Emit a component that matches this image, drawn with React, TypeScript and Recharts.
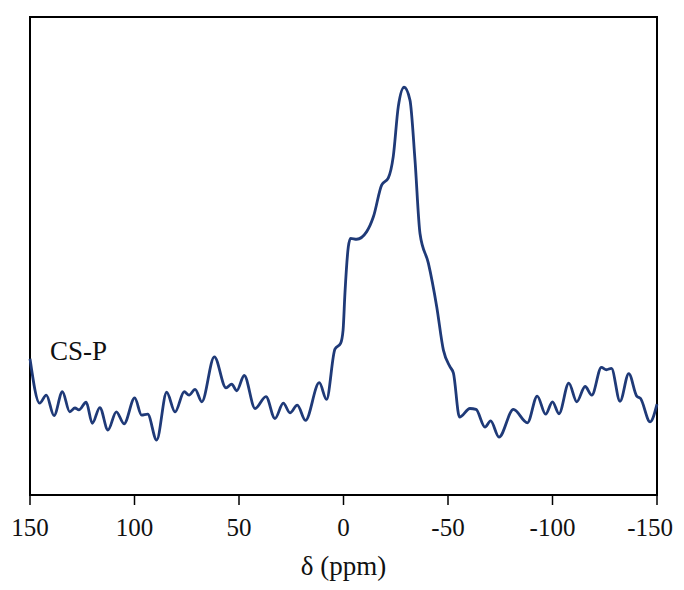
import { LineChart, Line, XAxis, YAxis, ReferenceArea } from "recharts";

// chemical shift (ppm) and intensity (arbitrary units)
const shifts = [
  150, 145.4, 142.2, 138.5, 134.5, 131.0, 128.5, 126.6, 123.1, 120.2,
  116.6, 112.7, 108.7, 105.0, 99.9, 96.6, 93.7, 89.4, 84.6, 80.6,
  76.2, 73.9, 71.0, 67.8, 61.8, 56.2, 53.5, 51.1, 47.5, 42.3,
  37.1, 32.8, 28.8, 25.6, 22.1, 18.2, 11.6, 8.1, 4.1, 1.4,
  0.2, -0.7, -2.3, -3.4, -6.3, -11.1, -14.3, -18.3, -21.4, -23.8,
  -26.2, -29.0, -31.8, -34.2, -36.6, -40.6, -44.6, -47.8, -51.0, -52.6,
  -55.5, -60.5, -63.4, -67.7, -70.4, -74.4, -81.3, -88.0, -92.7, -96.7,
  -100.0, -103.1, -107.8, -111.6, -115.6, -118.8, -123.4, -125.8, -128.2, -132.3,
  -136.5, -140.3, -142.1, -146.7, -150,
];
const intensity = [
  28.5, 19.2, 20.9, 16.6, 21.6, 17.4, 18.2, 17.8, 19.4, 15.0,
  18.3, 13.6, 17.4, 14.9, 20.3, 16.7, 16.9, 11.5, 21.5, 17.4,
  21.6, 20.9, 22.1, 19.5, 28.9, 22.4, 23.2, 21.8, 25.0, 18.1,
  20.6, 16.0, 19.2, 17.2, 18.8, 15.6, 23.5, 20.0, 30.5, 31.7,
  34.5, 42.3, 51.9, 53.7, 53.5, 55.1, 58.2, 64.9, 66.3, 70.8,
  81.2, 85.3, 82.6, 70.1, 54.7, 48.5, 39.4, 30.3, 26.8, 25.5,
  16.3, 18.1, 17.9, 14.2, 15.5, 12.1, 17.9, 15.1, 20.7, 16.9,
  19.5, 17.0, 23.4, 19.5, 22.7, 20.9, 26.7, 26.2, 26.5, 19.6,
  25.4, 20.7, 20.2, 15.3, 19.0,
];
const xTicks = [150, 100, 50, 0, -50, -100, -150];

const data = shifts.map((d, i) => ({ d, v: intensity[i] }));

const FONT = "'Liberation Serif', 'DejaVu Serif', serif";

// tick label; the last one is pulled in so it isn't cut at the window edge
function ShiftTick(props: any) {
  const { x, y, payload } = props;
  const last = payload.value === xTicks[xTicks.length - 1];
  return (
    <text
      x={last ? x + 16 : x}
      y={y}
      dy="0.71em"
      textAnchor={last ? "end" : "middle"}
      fill="#111"
      fontSize={25}
      fontFamily={FONT}
    >
      {payload.value}
    </text>
  );
}

export default function App() {
  return (
    <div style={{ position: "relative", width: 676, height: 574, fontFamily: FONT }}>
      <LineChart
        width={676}
        height={574}
        data={data}
        margin={{ top: 9, right: 27, bottom: 0, left: 22 }}
      >
        <XAxis
          dataKey="d"
          type="number"
          domain={[-150, 150]}
          reversed
          ticks={xTicks}
          tickSize={10}
          height={87}
          axisLine={{ stroke: "#000", strokeWidth: 2 }}
          tickLine={{ stroke: "#000", strokeWidth: 1.5 }}
          tick={<ShiftTick />}
          tickMargin={13}
          label={{
            value: "δ (ppm)",
            position: "insideBottom",
            offset: 7,
            fill: "#111",
            fontSize: 27,
            fontFamily: FONT,
          }}
        />
        <YAxis domain={[0, 100]} hide />
        <ReferenceArea
          x1={150}
          x2={-150}
          y1={0}
          y2={100}
          fill="none"
          fillOpacity={0}
          stroke="#000"
          strokeWidth={2}
          ifOverflow="visible"
        />
        <Line
          type="monotone"
          dataKey="v"
          stroke="#1f3a78"
          strokeWidth={2.8}
          dot={false}
          isAnimationActive={false}
        />
      </LineChart>
      <div
        style={{
          position: "absolute",
          left: 42,
          top: 328,
          fontSize: 27,
          color: "#111",
        }}
      >
        CS-P
      </div>
    </div>
  );
}
